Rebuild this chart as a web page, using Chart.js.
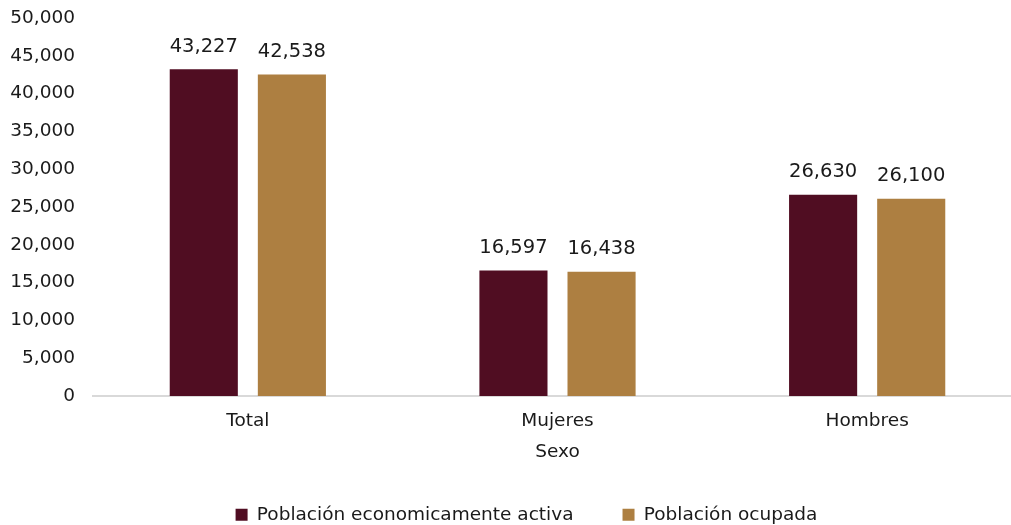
<!DOCTYPE html>
<html>
<head>
<meta charset="utf-8">
<script src="https://cdn.jsdelivr.net/npm/chart.js@4"></script>
<style>
  html, body { margin: 0; padding: 0; background: #fff; overflow: hidden; }
  #wrap { width: 1011px; height: 525px; overflow: hidden; }
</style>
</head>
<body>
<div id="wrap"><canvas id="barChart" width="1022" height="525"></canvas></div>
<script>
const categories = ['Total', 'Mujeres', 'Hombres'];
const seriesNames = ['Población economicamente activa', 'Población ocupada'];
const activa = [43227, 16597, 26630];
const ocupada = [42538, 16438, 26100];
const yTicks = [0, 5000, 10000, 15000, 20000, 25000, 30000, 35000, 40000, 45000, 50000];

const FONT = "'DejaVu Sans', Verdana, sans-serif";
const fmt = v => v.toLocaleString('en-US');

// value labels above each bar
const valueLabels = {
  id: 'valueLabels',
  afterDatasetsDraw(chart) {
    const ctx = chart.ctx;
    ctx.save();
    ctx.font = '19.5px ' + FONT;
    ctx.fillStyle = '#1a1a1a';
    ctx.textAlign = 'center';
    ctx.textBaseline = 'bottom';
    chart.data.datasets.forEach((ds, i) => {
      chart.getDatasetMeta(i).data.forEach((bar, j) => {
        ctx.fillText(fmt(ds.data[j]), bar.x, bar.y - 13);
      });
    });
    ctx.restore();
  }
};

// nudge the legend: the plot runs past the right edge, so its centre sits further right
const legendShift = {
  id: 'legendShift',
  afterLayout(chart) {
    chart.legend.left += 31;
  }
};

Chart.defaults.font.family = FONT;
Chart.defaults.font.size = 18.5;
Chart.defaults.color = '#1a1a1a';

new Chart(document.getElementById('barChart').getContext('2d'), {
  type: 'bar',
  data: {
    labels: categories,
    datasets: [
      { label: seriesNames[0], data: activa, backgroundColor: '#500D22', categoryPercentage: 0.569, barPercentage: 0.773 },
      { label: seriesNames[1], data: ocupada, backgroundColor: '#AD7F41', categoryPercentage: 0.569, barPercentage: 0.773 }
    ]
  },
  options: {
    responsive: false,
    animation: false,
    layout: { padding: { top: 18, left: 0, right: 0, bottom: -9 } },
    plugins: {
      tooltip: { enabled: false },
      legend: {
        position: 'bottom',
        labels: { boxWidth: 12, boxHeight: 12, padding: 49, color: '#1a1a1a' }
      }
    },
    scales: {
      x: {
        grid: { display: false, drawTicks: false },
        border: { display: true, color: '#D9D9D9', width: 2 },
        ticks: { padding: 14 },
        title: { display: true, text: 'Sexo', padding: { top: -5, bottom: -7 } }
      },
      y: {
        min: 0,
        max: 50000,
        afterBuildTicks: s => { s.ticks = yTicks.map(v => ({ value: v })); },
        afterFit: s => { s.width = 93; s.paddingTop = 0; s.paddingBottom = 0; },
        grid: { display: false, drawTicks: false },
        border: { display: false },
        ticks: { padding: 18, callback: v => fmt(v) }
      }
    }
  },
  plugins: [valueLabels, legendShift]
});
</script>
</body>
</html>
